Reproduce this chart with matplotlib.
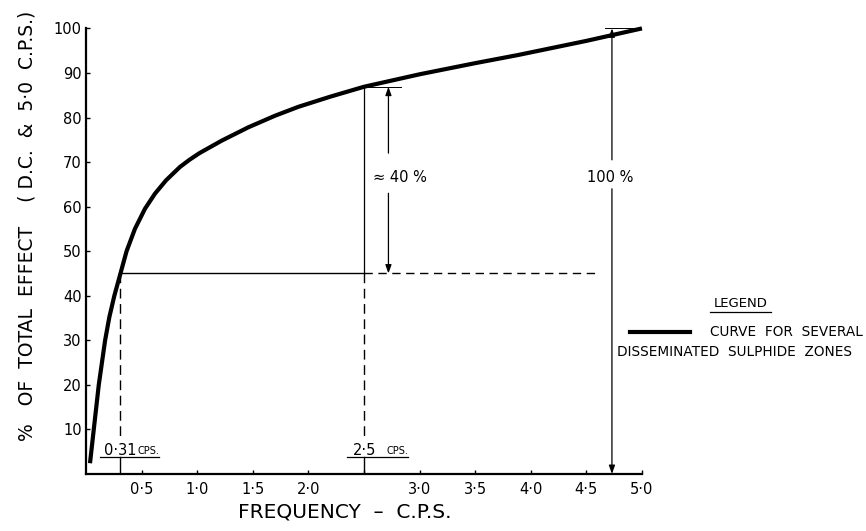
import matplotlib
matplotlib.use("Agg")
import matplotlib.pyplot as plt

# Curve (frequency in c.p.s., % of total effect)
freq = [0.036, 0.07, 0.115, 0.172, 0.21, 0.255, 0.31, 0.365, 0.44, 0.53, 0.62,
        0.72, 0.845, 0.93, 1.02, 1.22, 1.46, 1.7, 1.91, 2.2, 2.5, 3.0, 3.5,
        3.88, 4.5, 5.0]
effect = [2.4, 10, 20, 30, 35.2, 40, 45, 50, 55, 59.5, 62.9,
          65.9, 68.9, 70.5, 72.0, 74.8, 77.8, 80.4, 82.4, 84.7, 86.9, 89.7,
          92.2, 94.0, 97.2, 100]

x_ticks = [0.5, 1.0, 1.5, 2.0, 2.5, 3.0, 3.5, 4.0, 4.5, 5.0]
x_labels = ["0·5", "1·0", "1·5", "2·0", "", "3·0", "3·5", "4·0", "4·5", "5·0"]
y_ticks = [10, 20, 30, 40, 50, 60, 70, 80, 90, 100]

f_low = 0.31      # frequency where the 45 % level is reached
f_mid = 2.5       # reference frequency
level = 45        # effect at f_low
level_mid = 86.9  # effect at f_mid
f_full = 4.73     # position of the 100 % arrow
dash_end = 4.6    # end of the dashed 45 % line
f_arrow = 2.72    # position of the 40 % arrow
under_y = 3.8     # height of the call-out underlines
dash_stop = 8.5   # dashed drops stop above the call-outs

plt.rcParams["font.family"] = ["DejaVu Sans"]

fig = plt.figure(figsize=(8.66, 5.31), dpi=100, facecolor="white")
ax = fig.add_axes([0.0993, 0.1075, 0.6420, 0.8390])

# Main curve
ax.plot(freq, effect, color="black", lw=3.0, solid_capstyle="butt",
        solid_joinstyle="round", clip_on=False, zorder=5)

# Construction lines
dash = (0, (7, 4))
for f in (f_low, f_mid):
    ax.plot([f, f], [level, dash_stop], color="black", lw=1.0, linestyle=dash)
    ax.plot([f, f], [0, under_y], color="black", lw=1.0)
ax.plot([f_low, f_mid], [level, level], color="black", lw=1.0)
ax.plot([f_mid, dash_end], [level, level], color="black", lw=1.0,
        linestyle=(0, (6, 4)))
ax.plot([f_mid, f_mid], [level, level_mid], color="black", lw=0.9)
ax.plot([f_mid, f_mid + 0.33], [level_mid, level_mid], color="black", lw=0.7)
ax.plot([f_full - 0.06, f_full + 0.2], [100, 100], color="black", lw=0.7,
        clip_on=False)

# Double arrows with gaps for the labels
arw = dict(arrowstyle="-|>,head_length=0.5,head_width=0.18", color="black",
           lw=0.9, shrinkA=0, shrinkB=0)
ax.annotate("", xy=(f_arrow, level_mid), xytext=(f_arrow, 72), arrowprops=arw)
ax.annotate("", xy=(f_arrow, level), xytext=(f_arrow, 63), arrowprops=arw)
ax.annotate("", xy=(f_full, 100), xytext=(f_full, 70.5), arrowprops=arw)
ax.annotate("", xy=(f_full, 0), xytext=(f_full, 64), arrowprops=arw)

ax.text(2.58, 66.5, "≈ 40 %", fontsize=10.5, ha="left", va="center")
ax.text(f_full - 0.02, 66.5, "100 %", fontsize=10.5, ha="center", va="center")

# Frequency call-outs
ax.text(0.16, 5.3, "0·31", fontsize=10.5, ha="left", va="center")
ax.text(0.46, 5.1, "CPS.", fontsize=7, ha="left", va="center")
ax.plot([0.125, 0.66], [under_y, under_y], color="black", lw=0.9)
ax.text(2.40, 5.3, "2·5", fontsize=10.5, ha="left", va="center")
ax.text(2.70, 5.1, "CPS.", fontsize=7, ha="left", va="center")
ax.plot([2.35, 2.90], [under_y, under_y], color="black", lw=0.9)

# Axes styling
ax.set_xlim(0, 5.0)
ax.set_ylim(0, 100)
ax.spines["top"].set_visible(False)
ax.spines["right"].set_visible(False)
ax.spines["left"].set_linewidth(1.6)
ax.spines["bottom"].set_linewidth(1.6)
ax.set_xticks(x_ticks)
ax.set_xticklabels(x_labels)
ax.set_yticks(y_ticks)
ax.set_yticklabels([str(v) for v in y_ticks])
ax.tick_params(axis="x", direction="in", length=3, width=1, labelsize=10.5, pad=6)
ax.tick_params(axis="y", direction="in", length=3, width=1, labelsize=10.5, pad=3)

# Axis titles
fig.text(0.398, 0.018, "FREQUENCY  –  C.P.S.", fontsize=14.5, ha="center",
         va="bottom")
fig.text(0.031, 0.575, "%   OF  TOTAL  EFFECT    ( D.C.  &  5·0  C.P.S.)",
         fontsize=13.5, rotation=90, ha="center", va="center")

# Legend drawn by hand like on the original sheet
fig.text(0.855, 0.428, "LEGEND", fontsize=9.5, ha="center", va="center")
fig.add_artist(plt.Line2D([0.820, 0.890], [0.412, 0.412], color="black", lw=0.9))
fig.add_artist(plt.Line2D([0.727, 0.797], [0.375, 0.375], color="black", lw=3))
fig.text(0.82, 0.375, "CURVE  FOR  SEVERAL", fontsize=9.8, ha="left",
         va="center")
fig.text(0.713, 0.337, "DISSEMINATED  SULPHIDE  ZONES", fontsize=9.8,
         ha="left", va="center")

fig.savefig("out.png", dpi=100, facecolor="white")
